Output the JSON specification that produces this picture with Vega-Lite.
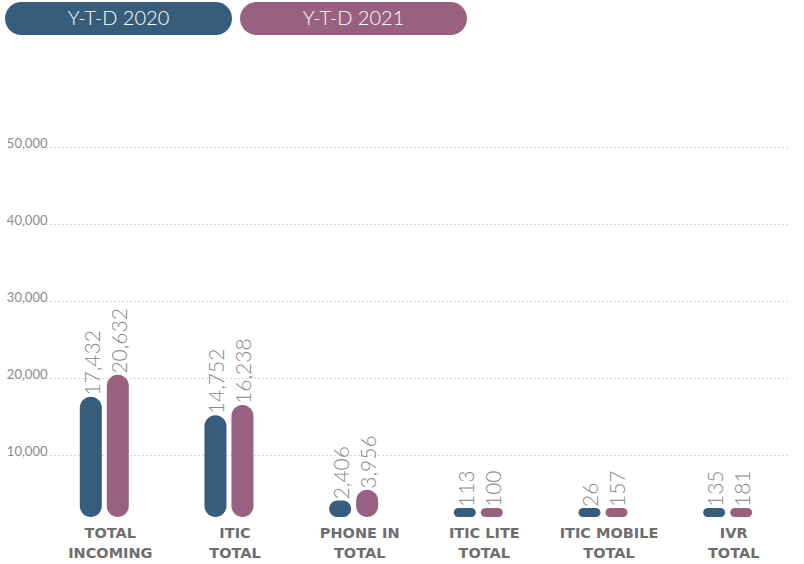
{
  "$schema": "https://vega.github.io/schema/vega-lite/v6.json",
  "padding": {"left": 5, "top": 2, "right": 0, "bottom": 0},
  "background": "white",
  "config": {"view": {"stroke": null}, "font": "Lato"},
  "spacing": 27,
  "align": "none",
  "vconcat": [
    {
      "width": 462,
      "height": 33,
      "data": {"values": [{"series": "Y-T-D 2020"}, {"series": "Y-T-D 2021"}]},
      "encoding": {
        "x": {"field": "series", "type": "nominal", "axis": null, "scale": {"range": [-45, 417], "paddingInner": 0.034, "paddingOuter": 0}}
      },
      "layer": [
        {
          "mark": {"type": "bar", "cornerRadius": 16.5, "opacity": 1},
          "encoding": {
            "color": {"field": "series", "type": "nominal", "legend": null, "scale": {"domain": ["Y-T-D 2020", "Y-T-D 2021"], "range": ["#365d7b", "#98617f"]}}
          }
        },
        {
          "mark": {"type": "text", "color": "white", "fontSize": 20, "fontWeight": 300, "font": "Lato", "baseline": "middle"},
          "encoding": {"text": {"field": "series"}}
        }
      ]
    },
    {
      "width": 746,
      "height": 455,
      "data": {"values": [
        {"category": "TOTAL INCOMING", "series": "Y-T-D 2020", "value": 17432},
        {"category": "TOTAL INCOMING", "series": "Y-T-D 2021", "value": 20632},
        {"category": "ITIC TOTAL", "series": "Y-T-D 2020", "value": 14752},
        {"category": "ITIC TOTAL", "series": "Y-T-D 2021", "value": 16238},
        {"category": "PHONE IN TOTAL", "series": "Y-T-D 2020", "value": 2406},
        {"category": "PHONE IN TOTAL", "series": "Y-T-D 2021", "value": 3956},
        {"category": "ITIC LITE TOTAL", "series": "Y-T-D 2020", "value": 113},
        {"category": "ITIC LITE TOTAL", "series": "Y-T-D 2021", "value": 100},
        {"category": "ITIC MOBILE TOTAL", "series": "Y-T-D 2020", "value": 26},
        {"category": "ITIC MOBILE TOTAL", "series": "Y-T-D 2021", "value": 157},
        {"category": "IVR TOTAL", "series": "Y-T-D 2020", "value": 135},
        {"category": "IVR TOTAL", "series": "Y-T-D 2021", "value": 181}
      ]},
      "encoding": {
        "x": {
          "field": "category", "type": "nominal", "sort": null,
          "scale": {"range": [-8, 740], "paddingInner": 0, "paddingOuter": 0},
          "axis": {
            "title": null, "domain": false, "ticks": false, "labelAngle": 0,
            "labelFont": "DejaVu Sans", "labelFontWeight": "bold", "labelFontSize": 14.5,
            "labelColor": "#6e6e6e", "labelPadding": 9, "labelLineHeight": 20, "labelOffset": 6,
            "labelBaseline": "top", "labelOverlap": false,
            "labelExpr": "[slice(datum.label, 0, lastindexof(datum.label, ' ')), slice(datum.label, lastindexof(datum.label, ' ') + 1)]"
          }
        },
        "xOffset": {"field": "series", "type": "nominal", "scale": {"range": [37.8, 86.8], "paddingInner": 0.185, "paddingOuter": 0}},
        "color": {"field": "series", "type": "nominal", "legend": null, "scale": {"domain": ["Y-T-D 2020", "Y-T-D 2021"], "range": ["#365d7b", "#98617f"]}}
      },
      "layer": [
        {
          "mark": {"type": "point", "opacity": 0, "clip": true},
          "encoding": {
            "y": {
              "field": "value", "type": "quantitative",
              "scale": {"domain": [2000, 61100], "nice": false, "zero": false},
              "axis": {
                "title": null, "values": [10000, 20000, 30000, 40000, 50000],
                "labelExpr": "format(datum.value, ',')",
                "grid": true, "gridDash": [1, 3], "gridColor": "#b0b0b0", "gridWidth": 1,
                "domain": false, "ticks": false, "labelFont": "Lato", "labelFontSize": 13,
                "labelColor": "#8c8c8c", "labelPadding": 3, "labelBaseline": "alphabetic"
              }
            }
          }
        },
        {
          "transform": [{"filter": "datum.value < 1300"}],
          "mark": {"type": "bar", "cornerRadius": 11, "opacity": 1},
          "encoding": {
            "y": {"datum": 1300, "type": "quantitative", "stack": null, "scale": {"domain": [0, 65942], "nice": false}, "axis": null},
            "y2": {"datum": 0}
          }
        },
        {
          "transform": [{"filter": "datum.value >= 1300"}],
          "mark": {"type": "bar", "cornerRadius": 11, "opacity": 1},
          "encoding": {
            "y": {"field": "value", "type": "quantitative", "stack": null, "scale": {"domain": [0, 65942], "nice": false}, "axis": null}
          }
        },
        {
          "mark": {"type": "text", "angle": 270, "align": "left", "baseline": "middle", "dx": 10, "dy": 3, "fontSize": 21, "fontWeight": 300, "font": "Lato", "color": "#888888"},
          "encoding": {
            "y": {"field": "value", "type": "quantitative", "stack": null, "scale": {"domain": [1300, 67242], "nice": false, "zero": false, "clamp": true}, "axis": null},
            "text": {"field": "value", "type": "quantitative", "format": ","},
            "color": {"value": "#888888"}
          }
        }
      ],
      "resolve": {"scale": {"y": "independent"}}
    }
  ]
}
